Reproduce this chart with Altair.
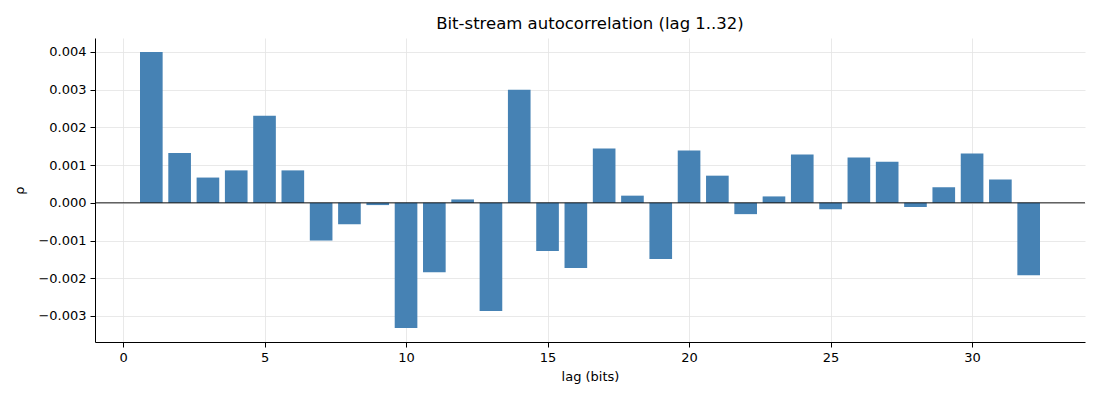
import pandas as pd
import altair as alt

lags = list(range(1, 33))
rho = [0.00400, 0.00132, 0.00067, 0.00086, 0.00231, 0.00086, -0.00100, -0.00057,
       -0.00006, -0.00332, -0.00184, 0.00009, -0.00287, 0.00300, -0.00128, -0.00173,
       0.00144, 0.00019, -0.00149, 0.00139, 0.00072, -0.00030, 0.00017, 0.00128,
       -0.00017, 0.00120, 0.00109, -0.00011, 0.00041, 0.00131, 0.00062, -0.00192]

df = pd.DataFrame({'lag': lags, 'rho': rho})

font = 'DejaVu Sans'

bars = (alt
        .Chart(df)
        .transform_calculate(x0='datum.lag - 0.4', x1='datum.lag + 0.4')
        .mark_bar(color='#4682b4', cornerRadius=0)
        .encode(
            x=alt.X('x0:Q',
                    scale=alt.Scale(domain=[-0.99, 33.99], nice=False, zero=False),
                    axis=alt.Axis(values=[0, 5, 10, 15, 20, 25, 30], format='d',
                                  title='lag (bits)')),
            x2='x1:Q',
            y=alt.Y('rho:Q',
                    scale=alt.Scale(domain=[-0.00369, 0.00437], nice=False),
                    axis=alt.Axis(values=[-0.003, -0.002, -0.001, 0, 0.001, 0.002, 0.003, 0.004],
                                  format='.3f', title='ρ')),
            y2=alt.datum(0)
        )
       )

zero = (alt
        .Chart(pd.DataFrame({'z': [0]}))
        .mark_rule(color='black', strokeWidth=0.9)
        .encode(y='z:Q')
       )

chart = (bars + zero).properties(
    width=990,
    height=304,
    title=alt.TitleParams('Bit-stream autocorrelation (lag 1..32)', font=font,
                          fontSize=16.5, fontWeight='normal', color='black', offset=6),
    autosize=alt.AutoSizeParams(type='none'),
    padding={'left': 87, 'top': 30, 'right': 7, 'bottom': 50}
).configure_view(
    stroke=None
).configure_axis(
    labelFont=font,
    titleFont=font,
    labelFontSize=13,
    titleFontSize=13,
    titleFontWeight='normal',
    labelColor='black',
    titleColor='black',
    domainColor='black',
    domainWidth=1,
    tickColor='black',
    tickSize=5,
    gridColor='#e3e3e3',
    gridWidth=0.8,
    labelPadding=4
).configure_axisX(
    titlePadding=6
).configure_axisY(
    titlePadding=11
)

chart.save("out.html", embed_options={"renderer": "svg", "actions": False})
